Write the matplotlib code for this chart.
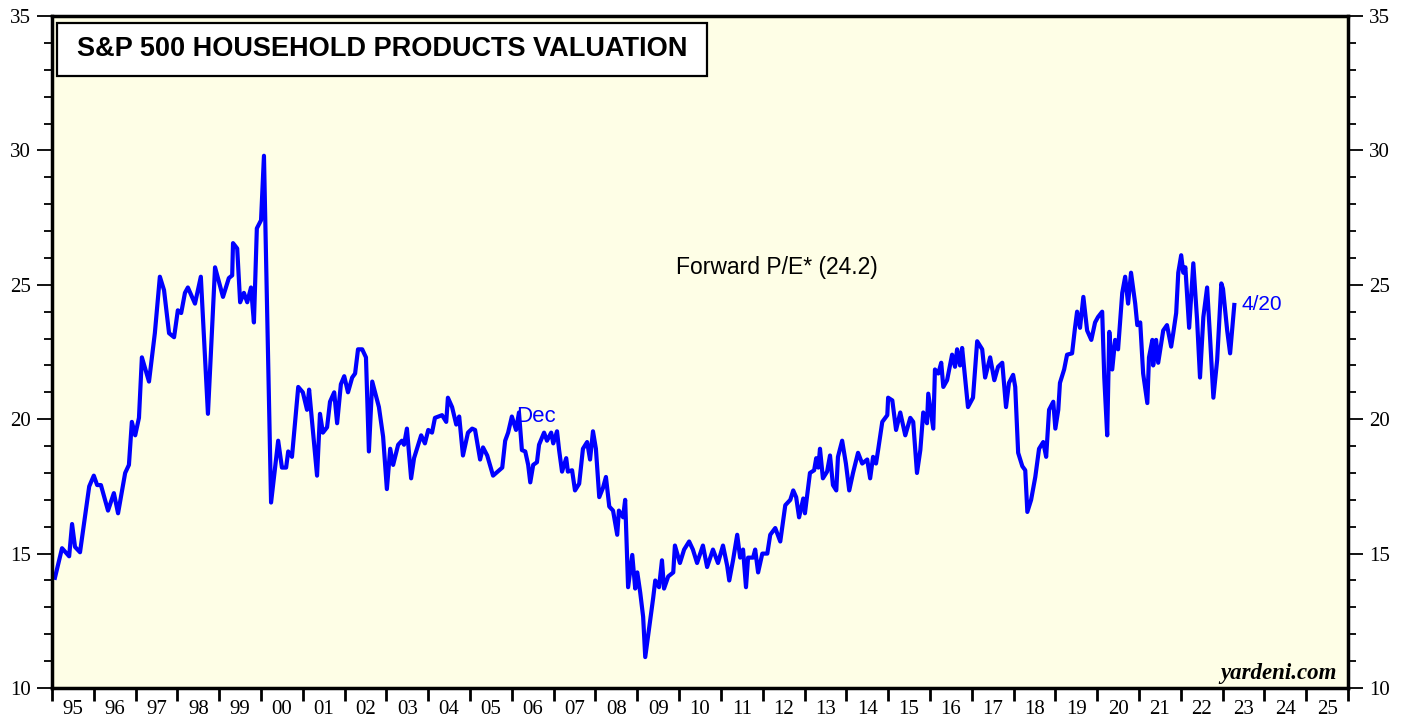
import numpy as np
import matplotlib
matplotlib.use("Agg")
import matplotlib.pyplot as plt
from matplotlib.patches import Rectangle
from matplotlib.ticker import MultipleLocator, FixedLocator, FixedFormatter

# forward P/E, S&P 500 household products (decimal year, value)
dates = [
    1995.07, 1995.24, 1995.41, 1995.48, 1995.55, 1995.67, 1995.89, 1996.00, 1996.08, 1996.17,
    1996.34, 1996.48, 1996.58, 1996.75, 1996.84, 1996.91, 1996.99, 1997.08, 1997.15, 1997.32,
    1997.46, 1997.58, 1997.68, 1997.80, 1997.92, 1998.01, 1998.09, 1998.18, 1998.25, 1998.42,
    1998.56, 1998.73, 1998.90, 1999.09, 1999.23, 1999.31, 1999.33, 1999.43, 1999.50, 1999.59,
    1999.67, 1999.76, 1999.83, 1999.90, 2000.00, 2000.07, 2000.24, 2000.41, 2000.50, 2000.60,
    2000.65, 2000.74, 2000.89, 2001.00, 2001.10, 2001.15, 2001.34, 2001.41, 2001.48, 2001.58,
    2001.65, 2001.75, 2001.82, 2001.91, 2001.99, 2002.08, 2002.18, 2002.25, 2002.32, 2002.42,
    2002.51, 2002.58, 2002.66, 2002.82, 2002.92, 2003.01, 2003.09, 2003.16, 2003.28, 2003.37,
    2003.42, 2003.49, 2003.59, 2003.66, 2003.83, 2003.92, 2004.00, 2004.09, 2004.16, 2004.33,
    2004.43, 2004.47, 2004.57, 2004.67, 2004.74, 2004.83, 2004.95, 2005.05, 2005.12, 2005.24,
    2005.31, 2005.41, 2005.55, 2005.77, 2005.84, 2005.91, 2006.00,
    2006.10, 2006.17, 2006.24, 2006.32, 2006.39, 2006.44, 2006.51, 2006.60, 2006.65, 2006.77,
    2006.84, 2006.94, 2006.99, 2007.08, 2007.13, 2007.20, 2007.30, 2007.34, 2007.44, 2007.51,
    2007.61, 2007.70, 2007.80, 2007.87, 2007.94, 2008.01, 2008.09, 2008.18, 2008.25, 2008.33,
    2008.42, 2008.52, 2008.56, 2008.66, 2008.71, 2008.78, 2008.88, 2008.95, 2009.00, 2009.07,
    2009.14, 2009.19, 2009.26, 2009.38, 2009.43, 2009.52, 2009.59, 2009.64, 2009.74, 2009.86,
    2009.90, 2010.02, 2010.12, 2010.24, 2010.33, 2010.43, 2010.57, 2010.67, 2010.81, 2010.93,
    2011.05, 2011.15, 2011.20, 2011.29, 2011.39, 2011.46, 2011.53, 2011.60, 2011.65, 2011.77,
    2011.82, 2011.89, 2011.99, 2012.11, 2012.18, 2012.30, 2012.42, 2012.54, 2012.66, 2012.73,
    2012.80, 2012.87, 2012.97, 2013.01, 2013.13, 2013.23, 2013.28, 2013.33, 2013.37, 2013.44,
    2013.54, 2013.61, 2013.68, 2013.76, 2013.80, 2013.90, 2013.99, 2014.07, 2014.16, 2014.28,
    2014.38, 2014.50, 2014.57, 2014.64, 2014.71, 2014.76, 2014.86, 2014.98, 2015.00, 2015.10,
    2015.19, 2015.29, 2015.41, 2015.53, 2015.60, 2015.69, 2015.77, 2015.84, 2015.93, 2015.96,
    2016.08, 2016.12, 2016.20, 2016.27, 2016.32, 2016.41, 2016.53, 2016.60, 2016.65, 2016.72,
    2016.77, 2016.84, 2016.91, 2017.03, 2017.13, 2017.25, 2017.32, 2017.44, 2017.54, 2017.63,
    2017.73, 2017.82, 2017.89, 2017.99, 2018.04, 2018.11, 2018.21, 2018.28, 2018.33, 2018.42,
    2018.52, 2018.61, 2018.71, 2018.78, 2018.85, 2018.95, 2019.00, 2019.07, 2019.11, 2019.21,
    2019.28, 2019.40, 2019.47, 2019.52, 2019.59, 2019.67, 2019.76, 2019.86, 2019.95, 2020.02,
    2020.12, 2020.17, 2020.24, 2020.29, 2020.36, 2020.43, 2020.50, 2020.60, 2020.67, 2020.74,
    2020.81, 2020.91, 2020.96, 2021.03, 2021.10, 2021.20, 2021.24, 2021.32, 2021.34, 2021.41,
    2021.46, 2021.58, 2021.67, 2021.77, 2021.82, 2021.89, 2021.94, 2022.01, 2022.06, 2022.11,
    2022.20, 2022.30, 2022.39, 2022.46, 2022.54, 2022.63, 2022.70, 2022.78, 2022.87, 2022.97,
    2023.01, 2023.11, 2023.18, 2023.28,
]
pe = [
    14.1, 15.2, 14.9, 16.1, 15.25, 15.05, 17.5, 17.9, 17.55, 17.55,
    16.6, 17.25, 16.5, 18.0, 18.3, 19.9, 19.4, 20.05, 22.3, 21.4,
    23.2, 25.3, 24.8, 23.2, 23.05, 24.05, 23.95, 24.7, 24.9, 24.3,
    25.3, 20.2, 25.65, 24.55, 25.25, 25.35, 26.55, 26.35, 24.35, 24.7,
    24.35, 24.9, 23.6, 27.1, 27.4, 29.8, 16.9, 19.2, 18.2, 18.2,
    18.8, 18.6, 21.2, 21.0, 20.35, 21.1, 17.9, 20.2, 19.5, 19.7,
    20.65, 21.0, 19.85, 21.3, 21.6, 21.0, 21.55, 21.7, 22.6, 22.6,
    22.3, 18.8, 21.4, 20.45, 19.35, 17.4, 18.9, 18.3, 19.05, 19.2,
    19.05, 19.65, 17.8, 18.55, 19.4, 19.1, 19.6, 19.5, 20.05, 20.15,
    19.9, 20.8, 20.45, 19.8, 20.1, 18.65, 19.5, 19.65, 19.6, 18.5,
    18.95, 18.65, 17.9, 18.2, 19.2, 19.5, 20.1,
    19.6, 20.25, 18.85, 18.8, 18.3, 17.65, 18.3, 18.4, 19.05, 19.5,
    19.2, 19.5, 19.1, 19.55, 18.85, 18.05, 18.55, 18.05, 18.1, 17.35,
    17.6, 18.9, 19.15, 18.5, 19.55, 18.9, 17.1, 17.45, 17.85, 16.75,
    16.6, 15.7, 16.6, 16.35, 17.0, 13.75, 14.95, 13.7, 14.3, 13.55,
    12.65, 11.15, 11.95, 13.35, 14.0, 13.75, 14.75, 13.7, 14.15, 14.3,
    15.3, 14.65, 15.15, 15.45, 15.15, 14.65, 15.3, 14.5, 15.15, 14.65,
    15.3, 14.55, 14.0, 14.75, 15.7, 14.85, 15.15, 13.75, 14.85, 14.85,
    15.15, 14.3, 15.0, 15.0, 15.7, 15.95, 15.45, 16.8, 17.0, 17.35,
    17.1, 16.35, 17.05, 16.5, 18.0, 18.1, 18.55, 18.2, 18.9, 17.8,
    18.05, 18.65, 17.55, 17.35, 18.6, 19.2, 18.35, 17.35, 18.0, 18.75,
    18.35, 18.5, 17.8, 18.6, 18.35, 18.85, 19.9, 20.15, 20.8, 20.7,
    19.6, 20.25, 19.4, 20.05, 19.9, 18.0, 18.85, 20.25, 19.85, 20.95,
    19.65, 21.85, 21.7, 22.1, 21.2, 21.45, 22.4, 21.95, 22.6, 22.0,
    22.65, 21.55, 20.45, 20.8, 22.9, 22.6, 21.55, 22.3, 21.45, 21.95,
    22.1, 20.45, 21.35, 21.65, 21.2, 18.75, 18.25, 18.1, 16.55, 17.0,
    17.85, 18.9, 19.15, 18.6, 20.35, 20.65, 19.65, 20.35, 21.35, 21.85,
    22.4, 22.45, 23.4, 24.0, 23.4, 24.55, 23.3, 22.95, 23.6, 23.8,
    24.0, 21.55, 19.4, 23.25, 21.85, 22.95, 22.6, 24.7, 25.3, 24.3,
    25.45, 24.3, 23.5, 23.6, 21.7, 20.6, 22.3, 22.95, 22.0, 22.95,
    22.1, 23.3, 23.5, 22.7, 23.2, 23.95, 25.45, 26.1, 25.45, 25.65,
    23.4, 25.8, 23.7, 21.55, 23.8, 24.9, 23.05, 20.8, 22.2, 25.05,
    24.85, 23.3, 22.45, 24.25,
]

years = list(range(1995, 2027))
year_labels = ["%02d" % (y % 100) for y in years[:-1]]

serif = "Liberation Serif"
sans = "Liberation Sans"

fig = plt.figure(figsize=(14.08, 7.19), dpi=100)
ax = fig.add_axes([52 / 1408, 1 - 688 / 719, 1296 / 1408, 672 / 719])
ax.set_facecolor("#fefee6")

ax.plot(dates, pe, color="#0000ff", lw=3.0, solid_joinstyle="round")

ax.set_xlim(1995, 2026)
ax.set_ylim(10, 35)

# y axis, both sides
ax.yaxis.set_major_locator(MultipleLocator(5))
ax.yaxis.set_minor_locator(MultipleLocator(1))
ax.tick_params(axis="y", which="major", length=11, width=1.3, direction="out",
               left=True, right=True, labelleft=True, labelright=True, pad=4,
               labelsize=15)
ax.tick_params(axis="y", which="minor", length=6, width=1.3, direction="out",
               left=True, right=True)

# x axis: ticks at year boundaries, labels in between
ax.xaxis.set_major_locator(FixedLocator(years))
ax.xaxis.set_major_formatter(FixedFormatter([""] * len(years)))
ax.xaxis.set_minor_locator(FixedLocator([y + 0.5 for y in years[:-1]]))
ax.xaxis.set_minor_formatter(FixedFormatter(year_labels))
ax.tick_params(axis="x", which="major", length=9, width=2, direction="out")
ax.tick_params(axis="x", which="minor", length=0, pad=9, labelsize=15)

for lab in ax.get_xticklabels(minor=True) + ax.yaxis.get_ticklabels(which="both"):
    lab.set_fontfamily(serif)

for s in ax.spines.values():
    s.set_linewidth(2.5)

# title box
ax.add_patch(Rectangle((0.0039, 0.9107), 0.5015, 0.0789, transform=ax.transAxes,
                       facecolor="white", edgecolor="black", lw=1.6, zorder=5))
ax.text(0.2546, 0.951, "S&P 500 HOUSEHOLD PRODUCTS VALUATION", transform=ax.transAxes,
        ha="center", va="center", fontsize=19.5, fontweight="bold", family=sans, zorder=6)

ax.text(0.5594, 0.626, "Forward P/E* (24.2)", transform=ax.transAxes,
        ha="center", va="center", fontsize=16.5, family=sans, color="black")

ax.annotate("4/20", xy=(dates[-1], pe[-1]), xytext=(5, 0), textcoords="offset points",
            ha="left", va="center", fontsize=15, family=sans, color="#0000ff")
ax.annotate("Dec", xy=(2006.0, 20.1), xytext=(3, 0), textcoords="offset points",
            ha="left", va="center", fontsize=16, family=sans, color="#0000ff")

ax.text(0.9915, 0.006, "yardeni.com", transform=ax.transAxes, ha="right", va="bottom",
        fontsize=16.5, family=serif, fontweight="bold", fontstyle="italic")

fig.savefig("out.png", dpi=100)
